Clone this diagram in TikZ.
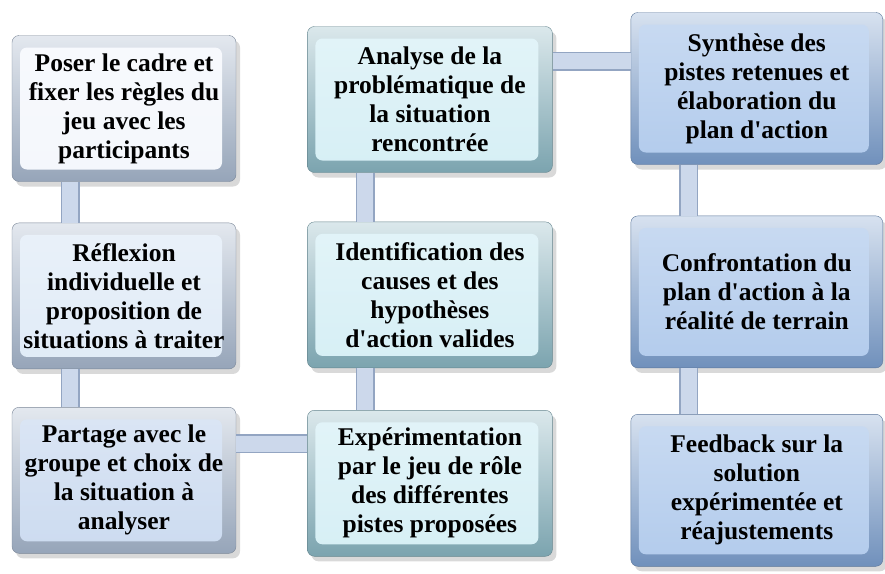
\documentclass[tikz,border=0pt]{standalone}
\usepackage{fontspec}
\setmainfont{Liberation Serif}
\usetikzlibrary{positioning}
\usetikzlibrary{shadows}
\definecolor{cadreA}{HTML}{A3B3C9}
\definecolor{cadreB}{HTML}{86B2BE}
\definecolor{cadreC}{HTML}{7A9DCC}
\definecolor{fondA}{HTML}{F4F7FC}
\definecolor{fondAA}{HTML}{E0EBF7}
\definecolor{fondAAA}{HTML}{CCDBF0}
\definecolor{fondB}{HTML}{D6EFF5}
\definecolor{fondC}{HTML}{B2CBEC}
\definecolor{tigeFond}{HTML}{CCD8EB}
\definecolor{tigeBord}{HTML}{93A5C2}
\tikzset{
    etape/.style={
        rectangle,
        rounded corners=7pt,
        align=center,
        inner sep=0pt,
        minimum height=146pt,
        font=\fontsize{25.5}{29}\selectfont\bfseries,
        top color=#1!30!white,
        bottom color=#1!92!black,
        draw=#1!75!black,
        thin,
        drop shadow={opacity=0.3, shadow xshift=4pt, shadow yshift=-5pt}
    },
    panneau/.style={
        path picture={
            \shade[top color=#1!70!white, bottom color=#1]
                ([xshift=8pt,yshift=12pt]path picture bounding box.south west)
                rectangle ([xshift=-14pt,yshift=-12pt]path picture bounding box.north east);
        }
    },
    colA/.style={etape=cadreA, minimum width=224pt},
    colB/.style={etape=cadreB, minimum width=245pt, panneau=fondB},
    colC/.style={etape=cadreC, minimum width=252pt, minimum height=152pt, panneau=fondC},
    tige/.style={
        draw=tigeBord,
        line width=1.5pt,
        double=tigeFond,
        double distance=16pt
    }
}

\begin{document}
\begin{tikzpicture}
                \useasboundingbox (0pt,0pt) rectangle (885pt,-573pt);
                \node[colA, panneau=fondA] (a1) at (124pt,-108.5pt)
                    {Poser le cadre et\\fixer les règles du\\jeu avec les\\participants};
                \node[colA, panneau=fondAA, below=41pt of a1] (a2)
                    {Réflexion\\individuelle et\\proposition de\\situations à traiter};
                \node[colA, panneau=fondAAA, below=38pt of a2] (a3)
                    {Partage avec le\\groupe et choix de\\la situation à\\analyser};
                \node[colB, right=71pt of a1, yshift=9pt] (b1)
                    {Analyse de la\\problématique de\\la situation\\rencontrée};
                \node[colB, below=49pt of b1] (b2)
                    {Identification des\\causes et des\\hypothèses\\d\textquotesingle action valides};
                \node[colB, below=42pt of b2] (b3)
                    {Expérimentation\\par le jeu de rôle\\des différentes\\pistes proposées};
                \node[colC, right=78pt of b1, yshift=11pt] (c1)
                    {Synthèse des\\pistes retenues et\\élaboration du\\plan d\textquotesingle action};
                \node[colC, below=51pt of c1] (c2)
                    {Confrontation du\\plan d\textquotesingle action à la\\réalité de terrain};
                \node[colC, below=46pt of c2] (c3)
                    {Feedback sur la\\solution\\expérimentée et\\réajustements};
                \draw[tige] ([xshift=-54pt]a1.south) -- ([xshift=-54pt]a1.south |- a2.north);
                \draw[tige] ([xshift=-54pt]a2.south) -- ([xshift=-54pt]a2.south |- a3.north);
                \draw[tige] ([yshift=36.5pt]a3.east) -- ([yshift=36.5pt]a3.east -| b3.west);
                \draw[tige] ([xshift=-64.5pt]b1.south) -- ([xshift=-64.5pt]b1.south |- b2.north);
                \draw[tige] ([xshift=-64.5pt]b2.south) -- ([xshift=-64.5pt]b2.south |- b3.north);
                \draw[tige] ([yshift=38.5pt]b1.east) -- ([yshift=38.5pt]b1.east -| c1.west);
                \draw[tige] ([xshift=-68pt]c1.south) -- ([xshift=-68pt]c1.south |- c2.north);
                \draw[tige] ([xshift=-68pt]c2.south) -- ([xshift=-68pt]c2.south |- c3.north);
            \end{tikzpicture}
\end{document}
